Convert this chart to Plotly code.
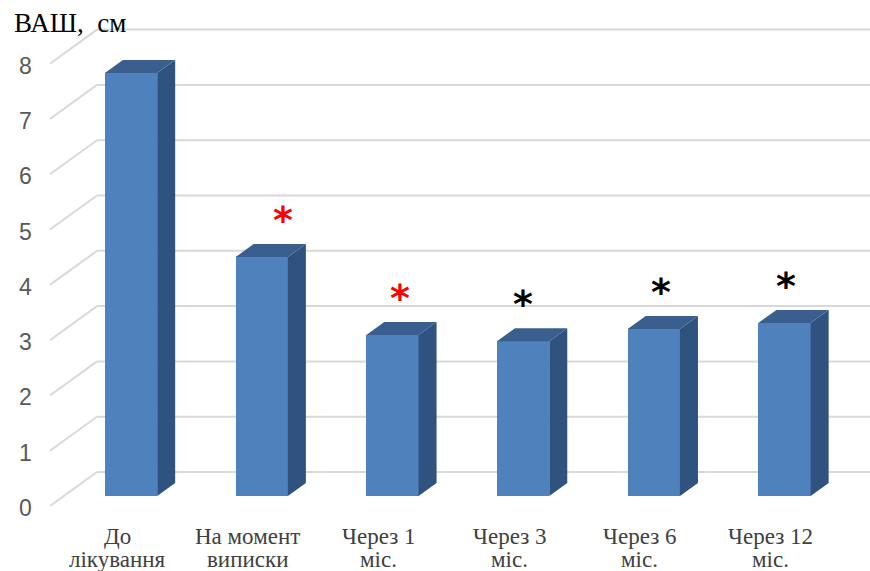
import plotly.graph_objects as go

# ---- data ----
categories = [["До", "лікування"], ["На момент", "виписки"], ["Через 1", "міс."],
              ["Через 3", "міс."], ["Через 6", "міс."], ["Через 12", "міс."]]
values = [7.65, 4.32, 2.91, 2.80, 3.02, 3.13]
sig_colors = [None, "red", "red", "black", "black", "black"]
y_ticks = [0, 1, 2, 3, 4, 5, 6, 7, 8]

# ---- geometry / style ----
W, H = 870, 571
ML, MR, MT, MB = 50, 0, 20, 61
X_RANGE = [-0.62, 5.654]
Y_RANGE = [-0.253, 8.608]
PXX = (W - ML - MR) / (X_RANGE[1] - X_RANGE[0])
PXY = (H - MT - MB) / (Y_RANGE[1] - Y_RANGE[0])
HALF = 0.2
DDX = 18 / PXX          # bar depth in x
DDY = 13 / PXY          # bar depth in y
FRONT_OFF = -10 / PXY   # floor front plane relative to bar front
BACK_OFF = 24 / PXY     # back wall relative to bar front
BACK_X = X_RANGE[0] + 47 / PXX
LABEL_DX = -14 / PXX
star_dx = [0, 0.16, 0.055, 0.0, 0.055, 0.015]

FRONT = "#4f81bd"
SIDE = "#30527e"
TOP = "#3a5f8e"
GRID = "#d9d9d9"

def px2paper_y(p):
    return (H - MB - p) / (H - MT - MB)

fig = go.Figure()

# gridlines (below traces): diagonal on left floor + back wall horizontal
shapes = []
for v in y_ticks:
    shapes.append(dict(type="line", xref="x", yref="y", layer="below",
                       x0=X_RANGE[0], y0=v + FRONT_OFF, x1=BACK_X, y1=v + BACK_OFF,
                       line=dict(color=GRID, width=2)))
    shapes.append(dict(type="line", xref="x", yref="y", layer="below",
                       x0=BACK_X, y0=v + BACK_OFF, x1=X_RANGE[1], y1=v + BACK_OFF,
                       line=dict(color=GRID, width=2)))

# front faces
xs = list(range(len(values)))
fig.add_trace(go.Bar(x=xs, y=values, width=2 * HALF, marker=dict(color=FRONT, line=dict(width=0)),
                     showlegend=False, hoverinfo="y"))

# side and top faces
for i, v in enumerate(values):
    sx = [i + HALF, i + HALF + DDX, i + HALF + DDX, i + HALF, i + HALF]
    sy = [0, DDY, v + DDY, v, 0]
    fig.add_trace(go.Scatter(x=sx, y=sy, fill="toself", fillcolor=SIDE, mode="lines",
                             line=dict(width=0, color=SIDE), hoverinfo="skip", showlegend=False))
    tx = [i - HALF, i - HALF + DDX, i + HALF + DDX, i + HALF, i - HALF]
    ty = [v, v + DDY, v + DDY, v, v]
    fig.add_trace(go.Scatter(x=tx, y=ty, fill="toself", fillcolor=TOP, mode="lines",
                             line=dict(width=0, color=TOP), hoverinfo="skip", showlegend=False))

ann = []
# y tick labels
for v in y_ticks:
    ann.append(dict(x=(25 - ML) / (W - ML - MR), xref="paper", y=v + FRONT_OFF - 2 / PXY, yref="y",
                    text=str(v), showarrow=False, xanchor="center", yanchor="middle",
                    font=dict(family="Liberation Sans", size=23, color="#595959")))
# category labels
for i, (l1, l2) in enumerate(categories):
    ann.append(dict(x=i + LABEL_DX, xref="x", y=px2paper_y(536), yref="paper", text=l1,
                    showarrow=False, xanchor="center", yanchor="middle",
                    font=dict(family="Liberation Serif", size=23, color="#404040")))
    ann.append(dict(x=i + LABEL_DX, xref="x", y=px2paper_y(559), yref="paper", text=l2,
                    showarrow=False, xanchor="center", yanchor="middle",
                    font=dict(family="Liberation Serif", size=23, color="#404040")))
# significance asterisks
for i, (v, c) in enumerate(zip(values, sig_colors)):
    if c is None:
        continue
    ann.append(dict(x=i + star_dx[i], xref="x", y=v + 41 / PXY, yref="y", text="<b>*</b>",
                    showarrow=False, xanchor="center", yanchor="middle", yshift=-4,
                    font=dict(family="DejaVu Sans", size=38, color=c)))
# title
ann.append(dict(x=(12 - ML) / (W - ML - MR), xref="paper", y=px2paper_y(23), yref="paper",
                text="ВАШ,\u00a0 см", showarrow=False, xanchor="left", yanchor="middle",
                font=dict(family="Liberation Serif", size=27, color="#000000")))

fig.update_layout(
    width=W, height=H, margin=dict(l=ML, r=MR, t=MT, b=MB),
    paper_bgcolor="white", plot_bgcolor="white",
    xaxis=dict(range=X_RANGE, showgrid=False, zeroline=False, showticklabels=False, fixedrange=True),
    yaxis=dict(range=Y_RANGE, showgrid=False, zeroline=False, showticklabels=False, fixedrange=True),
    annotations=ann, shapes=shapes, bargap=0,
)
fig.write_html("out.html")
